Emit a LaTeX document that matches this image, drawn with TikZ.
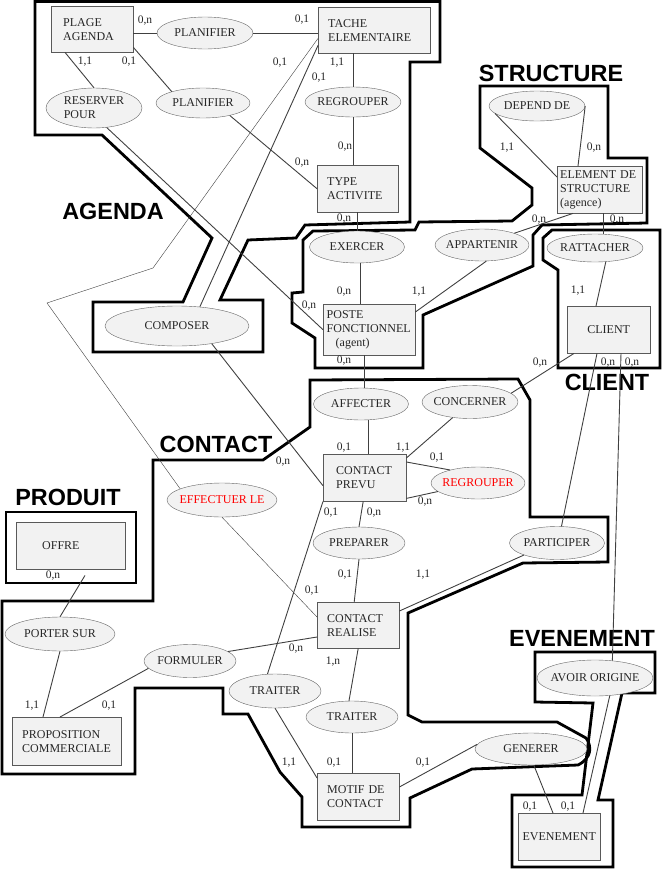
\documentclass[tikz,border=0pt]{standalone}
\usepackage{fontspec}
\setmainfont{Liberation Serif}
\newfontfamily\zonefont{Liberation Sans}
\usetikzlibrary{shapes.geometric}
\newcommand{\namefont}{\fontsize{12}{14}\selectfont}
\newcommand{\cardfont}{\fontsize{11.5}{13}\selectfont}
\newcommand{\titlefont}{\zonefont\bfseries\fontsize{23.4}{26}\selectfont}

\begin{document}
\begin{tikzpicture}[x=1pt,y=-1pt,
   ent/.style={rectangle,draw=black!65,fill=black!5,font=\namefont,text=black!85,align=left,anchor=north west,inner ysep=0pt},
   rel/.style={ellipse,draw=black!60,fill=black!5,font=\namefont,text=black!85,inner xsep=-20pt,inner ysep=0pt},
   card/.style={font=\cardfont,text=black!85,inner sep=0pt},
   zone/.style={line width=2.8pt,line join=miter},
   zonetitle/.style={font=\titlefont,inner sep=0pt},
   link/.style={draw=black!75,line width=0.9pt}]
  \useasboundingbox (0,0) rectangle (662,870);
   \coordinate (BendA) at (153,268);
   \coordinate (BendB) at (47,303);
% the six domains
  \draw[zone] (35,1.5) -- (440,1.5) -- (440,62) -- (410,62) -- (410,222) -- (305,225) -- (296,238)
        -- (248,240) -- (220,300) -- (263,300) -- (263,352) -- (93,352) -- (93,302) -- (183,302)
        -- (212,238) -- (102,135) -- (35,135) -- cycle;
  \draw[zone] (480,86) -- (608,86) -- (608,158) -- (647,158) -- (647,223) -- (542,225) -- (533,235)
        -- (533,266) -- (423,315) -- (423,368) -- (315,368) -- (315,338) -- (292,323) -- (292,293)
        -- (303,292) -- (303,240) -- (313,231) -- (415,230) -- (419,222) -- (512,221) -- (532,205)
        -- (532,188) -- (480,148) -- cycle;
  \draw[zone] (552,230) -- (660,230) -- (660,368) -- (558,368) -- (558,270) -- (543,260) -- (543,238) -- cycle;
  \draw[zone] (153,460) -- (263,460) -- (310,427) -- (310,380) -- (518,379) -- (530,400) -- (530,517)
        -- (608,517) -- (608,562) -- (523,563) -- (408,613) -- (408,715) -- (422,722) -- (557,722)
        -- (586,738) .. controls (592,746) and (592,758) .. (578,765) -- (472,769) -- (410,798)
        -- (410,827) -- (302,827) -- (302,797) -- (280,772) -- (248,714) -- (223,714) -- (223,688)
        -- (135,688) -- (135,774) -- (2,774) -- (2,601) -- (153,601) -- cycle;
  \draw[zone] (6,512) rectangle (136,583);
  \draw[zone] (535,652) -- (655,652) -- (655,693) -- (622,693) -- (598,800) -- (613,800) -- (613,867)
        -- (512,867) -- (512,795) -- (582,795) -- (593,703) -- (535,702) -- cycle;
  \node[zonetitle] (tAgenda) at (113,211) {AGENDA};
  \node[zonetitle] (tStructure) at (551,73) {STRUCTURE};
  \node[zonetitle] (tContact) at (216,444) {CONTACT};
  \node[zonetitle] (tProduit) at (68,497) {PRODUIT};
  \node[zonetitle] (tClient) at (607,382) {CLIENT};
  \node[zonetitle] (tEvenement) at (582,638) {EVENEMENT};
% entities
  \node[ent,minimum width=82pt,minimum height=46pt,text width=58pt,inner xsep=12pt] (PlageAgenda) at (51,6) {PLAGE\\AGENDA};
  \node[ent,minimum width=112pt,minimum height=46pt,text width=92pt,inner xsep=10pt] (TacheElem) at (318,7) {TACHE\\ELEMENTAIRE};
  \node[ent,minimum width=81pt,minimum height=47pt,text width=61pt,inner xsep=10pt] (TypeActivite) at (317,165) {TYPE\\ACTIVITE};
  \node[ent,minimum width=92pt,minimum height=51pt,text width=85pt,inner xsep=3.5pt] (Poste) at (323,304) {POSTE\\FONCTIONNEL\\\hspace*{9pt}(agent)};
  \node[ent,minimum width=85pt,minimum height=47pt,text width=79pt,inner xsep=3pt] (ElementStruct) at (557,166) {ELEMENT DE\\STRUCTURE\\(agence)};
  \node[ent,minimum width=83pt,minimum height=47pt,text width=73pt,inner xsep=5pt,align=center] (Client) at (567,306) {CLIENT};
  \node[ent,minimum width=83pt,minimum height=47pt,text width=57pt,inner xsep=13pt] (ContactPrevu) at (323,454) {CONTACT\\PREVU};
  \node[ent,minimum width=109pt,minimum height=47pt,text width=57pt,inner xsep=26pt] (Offre) at (16,522) {OFFRE};
  \node[ent,minimum width=82pt,minimum height=46pt,text width=62pt,inner xsep=10pt] (ContactRealise) at (317,602) {CONTACT\\REALISE};
  \node[ent,minimum width=109pt,minimum height=48pt,text width=89pt,inner xsep=10pt] (Proposition) at (12,717) {PROPOSITION\\COMMERCIALE};
  \node[ent,minimum width=82pt,minimum height=47pt,text width=62pt,inner xsep=10pt] (Motif) at (317,773) {MOTIF DE\\CONTACT};
  \node[ent,minimum width=82pt,minimum height=47pt,text width=74pt,inner xsep=4pt,align=center] (Evenement) at (518,813) {EVENEMENT};
% relations
  \node[rel,minimum width=96pt,minimum height=32pt] (PlanifierA) at (205,33) {PLANIFIER};
  \node[rel,minimum width=94pt,minimum height=30pt] (PlanifierB) at (203,103) {PLANIFIER};
  \node[rel,minimum width=96pt,minimum height=40pt,align=left] (ReserverPour) at (94,108) {RESERVER\\POUR};
  \node[rel,minimum width=96pt,minimum height=30pt] (RegrouperA) at (353,102) {REGROUPER};
  \node[rel,minimum width=144pt,minimum height=40pt] (Composer) at (177,326) {COMPOSER};
  \node[rel,minimum width=96pt,minimum height=30pt] (DependDe) at (537,106) {DEPEND DE};
  \node[rel,minimum width=95pt,minimum height=32pt] (Exercer) at (357,247) {EXERCER};
  \node[rel,minimum width=94pt,minimum height=32pt] (Appartenir) at (482,245) {APPARTENIR};
  \node[rel,minimum width=96pt,minimum height=28pt] (Rattacher) at (595,248) {RATTACHER};
  \node[rel,minimum width=95pt,minimum height=32pt] (Affecter) at (361,404) {AFFECTER};
  \node[rel,minimum width=96pt,minimum height=33pt] (Concerner) at (470,402) {CONCERNER};
  \node[rel,minimum width=94pt,minimum height=32pt,text=red] (RegrouperB) at (478,483) {REGROUPER};
  \node[rel,minimum width=110pt,minimum height=34pt,text=red] (EffectuerLe) at (222,500) {EFFECTUER LE};
  \node[rel,minimum width=92pt,minimum height=32pt] (Preparer) at (359,543) {PREPARER};
  \node[rel,minimum width=95pt,minimum height=33pt] (Participer) at (557,543) {PARTICIPER};
  \node[rel,minimum width=110pt,minimum height=34pt] (PorterSur) at (60,634) {PORTER SUR};
  \node[rel,minimum width=92pt,minimum height=33pt] (Formuler) at (190,661) {FORMULER};
  \node[rel,minimum width=92pt,minimum height=34pt] (TraiterA) at (275,691) {TRAITER};
  \node[rel,minimum width=92pt,minimum height=32pt] (TraiterB) at (352,717) {TRAITER};
  \node[rel,minimum width=112pt,minimum height=32pt] (Generer) at (531,749) {GENERER};
  \node[rel,minimum width=116pt,minimum height=36pt] (AvoirOrigine) at (595,678) {AVOIR ORIGINE};
% links
 \draw[link] (PlageAgenda.east |- PlanifierA) -- (PlanifierA);
 \draw[link] (PlanifierA) -- (PlanifierA -| TacheElem.west);
 \draw[link] ([xshift=14pt]PlageAgenda.south west) -- (ReserverPour.north);
 \draw[link] ([yshift=5pt]PlageAgenda.south east) -- (PlanifierB.160);
 \draw[link] (PlanifierB.-25) -- (TypeActivite.west);
 \draw[link] (RegrouperA.north |- TacheElem.south) -- (RegrouperA.north);
 \draw[link] (RegrouperA.south) -- (RegrouperA.south |- TypeActivite.north);
 \draw[link] ([yshift=8pt]TacheElem.south west) -- (Composer.40);
 \draw[link,thin] ([yshift=15pt]TacheElem.south west) -- (BendA) -- (BendB) -- (EffectuerLe.165);
 \draw[link] (ReserverPour.-57) -- (Poste.west);
 \draw[link] (TypeActivite.south -| Exercer) -- (Exercer);
 \draw[link] ([xshift=3pt]Exercer.south) -- ([xshift=3pt]Exercer.south |- Poste.north);
 \draw[link] (Appartenir.-75) -- ([yshift=-8pt]Poste.north east);
 \draw[link] (Appartenir.20) -- ([xshift=16pt]ElementStruct.south west);
 \draw[link] ([xshift=3.5pt]ElementStruct.south) -- ([xshift=3.5pt]ElementStruct.south |- Rattacher.north);
 \draw[link] (Rattacher.-52) -- ([xshift=29pt]Client.north west);
 \draw[link] (DependDe.190) -- ([yshift=-11pt]ElementStruct.north west);
 \draw[link] (DependDe.east) -- ([xshift=21pt]ElementStruct.north west);
 \draw[link] ([xshift=-5pt]Poste.south) -- ([xshift=-5pt]Poste.south |- Affecter.north);
 \draw[link] ([xshift=7pt]Affecter.south) -- ([xshift=7pt]Affecter.south |- ContactPrevu.north);
 \draw[link] (Concerner.-138) -- ([yshift=-4pt]ContactPrevu.north east);
 \draw[link] ([xshift=7pt]Client.south west) -- (Concerner.12);
 \draw[link] ([yshift=-8pt]ContactPrevu.north east) -- (RegrouperB.155);
 \draw[link] ([yshift=3pt]ContactPrevu.south east) -- (RegrouperB.-168);
 \draw[link] ([xshift=-1.5pt]ContactPrevu.south) -- (Preparer.north);
 \draw[link] (Preparer.south) -- ([xshift=-4pt]ContactRealise.north);
 \draw[link] (Composer.-27) -- ([yshift=-8pt]ContactPrevu.west);
 \draw[link,thin] (EffectuerLe.south) -- ([yshift=-15pt]ContactRealise.north west);
 \draw[link] (ContactPrevu.south west) -- (TraiterA.114);
 \draw[link] (TraiterA.south) -- ([yshift=-5pt]Motif.north west);
 \draw[link] (ContactRealise.south) -- ([xshift=-3pt]TraiterB.north);
 \draw[link] (TraiterB.south) -- (TraiterB.south |- Motif.north);
 \draw[link] ([yshift=-14pt]Motif.north east) -- (Generer.175);
 \draw[link] (Generer.-80) -- ([xshift=35pt]Evenement.north west);
 \draw[link] (AvoirOrigine.-50) -- ([xshift=65pt]Evenement.north west);
 \draw[link] ([xshift=54pt]Client.south west) -- (AvoirOrigine.45);
 \draw[link] ([xshift=30pt]Client.south west) -- (Participer.75);
 \draw[link] (Participer.200) -- ([yshift=-9pt]ContactRealise.north east);
 \draw[link] ([yshift=-35pt]ContactRealise.north west) -- (Formuler.14);
 \draw[link] (Formuler.190) -- ([xshift=48pt]Proposition.north west);
 \draw[link] (PorterSur.south) -- ([xshift=31pt]Proposition.north west);
 \draw[link] ([xshift=69pt,yshift=-6pt]Offre.south west) -- (PorterSur.north);
% cardinalities
  \foreach \cx/\cy/\ct [count=\i] in {145/21/{0,n},302/20/{0,1},85/62/{1,1},129/62/{0,1},
      280/63/{0,1},319/78/{0,1},337/63/{1,1},345/147/{0,n},302/163/{0,n},344/219/{0,n},
      309/306/{0,n},344/292/{0,n},419/292/{1,1},507/148/{1,1},594/148/{0,n},539/220/{0,n},
      617/220/{0,n},578/291/{1,1},344/361/{0,n},540/363/{0,n},608/363/{0,n},632/363/{0,n},
      344/448/{0,1},403/448/{1,1},437/458/{0,1},425/502/{0,n},283/462/{0,n},374/513/{0,n},
      331/513/{0,1},345/575/{0,1},423/575/{1,1},312/591/{0,1},296/649/{0,n},333/662/{1,n},
      53/576/{0,n},32/706/{1,1},109/706/{0,1},289/763/{1,1},334/763/{0,1},423/763/{0,1},
      530/807/{0,1},568/807/{0,1}}{% one label per end of link
    \node[card] (card\i) at (\cx,\cy) {\ct};
  }
\end{tikzpicture}
\end{document}
